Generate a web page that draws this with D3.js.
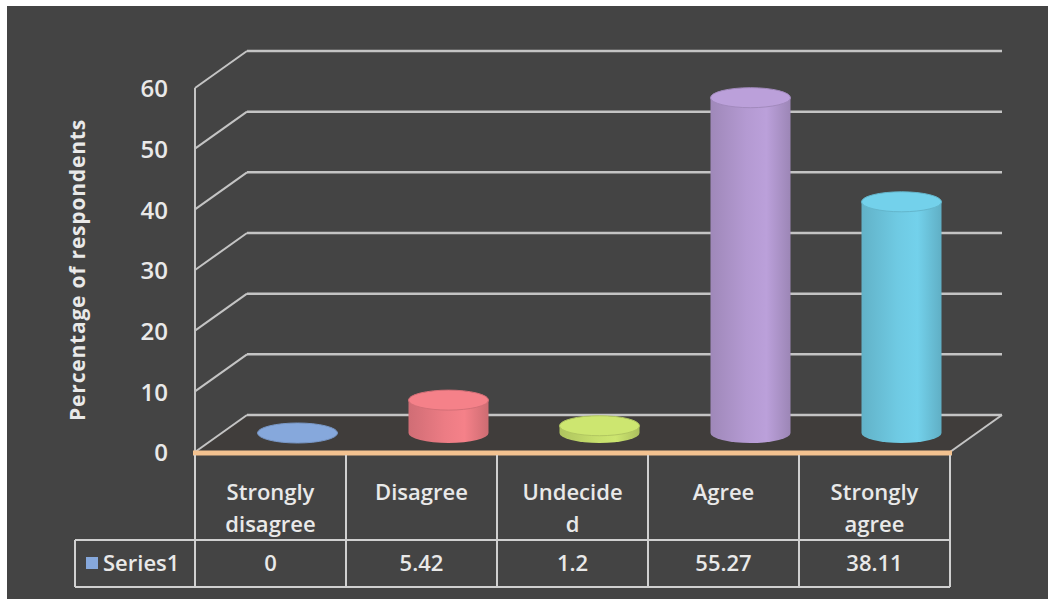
<!DOCTYPE html>
<html>
<head>
<meta charset="utf-8">
<script src="https://cdn.jsdelivr.net/npm/d3@7/dist/d3.min.js"></script>
<style>
  html, body { margin: 0; padding: 0; background: #ffffff; }
  svg { display: block; }
  text { font-family: "Open Sans", Lato, sans-serif; font-weight: 600; fill: #e9e9e9; }
</style>
</head>
<body>
<svg id="chart" width="1048" height="599"></svg>
<script>
// ---- data ----
const categories = [["Strongly", "disagree"], ["Disagree"], ["Undecide", "d"], ["Agree"], ["Strongly", "agree"]];
const values = [0, 5.42, 1.2, 55.27, 38.11];
const valueLabels = ["0", "5.42", "1.2", "55.27", "38.11"];
const yTicks = [0, 10, 20, 30, 40, 50, 60];
const seriesName = "Series1";
const yTitle = "Percentage of respondents";
const barColors = ["#86a8dc", "#ec7c84", "#c6de6c", "#b49ad2", "#6fcae3"];

// ---- layout ----
const svg = d3.select("#chart");
const W = 1048, H = 599;
const plotLeft = 195, plotRight = 950;
const yFront0 = 452, yFrontTop = 88;
const depth = { dx: 52, dy: -37 };

svg.append("rect").attr("x", 7).attr("y", 6).attr("width", W - 7).attr("height", H - 6).attr("fill", "#444444");

const x = d3.scaleBand().domain(d3.range(categories.length)).range([plotLeft, plotRight]);
const y = d3.scaleLinear().domain([0, 60]).range([yFront0, yFrontTop]);

const gridColor = "#c4c4c4";
const g = svg.append("g");

// floor plane
g.append("polygon")
  .attr("points", [
    [plotLeft, yFront0], [plotRight, yFront0],
    [plotRight + depth.dx, yFront0 + depth.dy], [plotLeft + depth.dx, yFront0 + depth.dy]
  ].map(p => p.join(",")).join(" "))
  .attr("fill", "#403d3b");

// back wall gridlines and left wall diagonals
yTicks.forEach(t => {
  const yy = y(t);
  g.append("line")
    .attr("x1", plotLeft + depth.dx).attr("x2", plotRight + depth.dx)
    .attr("y1", yy + depth.dy).attr("y2", yy + depth.dy)
    .attr("stroke", gridColor).attr("stroke-width", 2.5);
  g.append("line")
    .attr("x1", plotLeft).attr("x2", plotLeft + depth.dx)
    .attr("y1", yy).attr("y2", yy + depth.dy)
    .attr("stroke", gridColor).attr("stroke-width", 2);
});
// right floor edge
g.append("line")
  .attr("x1", plotRight).attr("y1", yFront0)
  .attr("x2", plotRight + depth.dx).attr("y2", yFront0 + depth.dy)
  .attr("stroke", gridColor).attr("stroke-width", 2);
// vertical axis line
g.append("line")
  .attr("x1", plotLeft).attr("x2", plotLeft)
  .attr("y1", y(60)).attr("y2", yFront0 + 2)
  .attr("stroke", gridColor).attr("stroke-width", 2);

// y tick labels
g.selectAll("text.ytick").data(yTicks).enter().append("text")
  .attr("class", "ytick")
  .attr("x", 168).attr("y", d => y(d) + 3)
  .attr("text-anchor", "end").attr("dominant-baseline", "middle")
  .attr("font-size", 24)
  .text(d => d);

// y title
svg.append("text")
  .attr("transform", "translate(79,270) rotate(-90)")
  .attr("text-anchor", "middle").attr("dominant-baseline", "middle")
  .attr("font-size", 21).attr("letter-spacing", 0.8)
  .style("font-weight", "bold")
  .text(yTitle);

// cylinders
const defs = svg.append("defs");
barColors.forEach((c, i) => {
  const base = d3.color(c);
  const grad = defs.append("linearGradient").attr("id", "cg" + i)
    .attr("x1", "0%").attr("x2", "100%").attr("y1", "0%").attr("y2", "0%");
  grad.append("stop").attr("offset", "0%").attr("stop-color", base.darker(0.35));
  grad.append("stop").attr("offset", "45%").attr("stop-color", base);
  grad.append("stop").attr("offset", "70%").attr("stop-color", base.brighter(0.1));
  grad.append("stop").attr("offset", "100%").attr("stop-color", base.darker(0.4));
});

const cylOffX = 27, cylOffY = -19;
const rx = 40, ry = 10;
const cyl = g.append("g");
values.forEach((v, i) => {
  const cx = x(i) + x.bandwidth() / 2 + cylOffX;
  const yb = y(0) + cylOffY;
  const yt = y(v) + cylOffY;
  const col = d3.color(barColors[i]);
  const pathStr = `M${cx - rx},${yt} L${cx - rx},${yb} A${rx},${ry} 0 0 0 ${cx + rx},${yb} L${cx + rx},${yt} Z`;
  if (v > 0.5) {
    cyl.append("path").attr("d", pathStr).attr("fill", `url(#cg${i})`);
  }
  cyl.append("ellipse")
    .attr("cx", cx).attr("cy", yt).attr("rx", rx).attr("ry", ry)
    .attr("fill", v > 0.5 ? col.brighter(0.1) : col)
    .attr("stroke", col.darker(0.3)).attr("stroke-width", 1);
});

// floor front edge (orange)
g.append("line")
  .attr("x1", plotLeft - 2).attr("x2", plotRight + 2)
  .attr("y1", yFront0 + 1).attr("y2", yFront0 + 1)
  .attr("stroke", "#f3c290").attr("stroke-width", 5);

// data table
const tLeft = 75, tRow1 = 540, tBottom = 587, tTop = yFront0 + 3;
const tcol = "#d0d0d0";
const tg = svg.append("g");
tg.append("line").attr("x1", tLeft).attr("x2", plotRight).attr("y1", tRow1).attr("y2", tRow1).attr("stroke", tcol).attr("stroke-width", 2);
tg.append("line").attr("x1", tLeft).attr("x2", plotRight).attr("y1", tBottom).attr("y2", tBottom).attr("stroke", tcol).attr("stroke-width", 2);
tg.append("line").attr("x1", tLeft).attr("x2", tLeft).attr("y1", tRow1).attr("y2", tBottom).attr("stroke", tcol).attr("stroke-width", 2);
const bounds = x.domain().map(i => x(i)).concat([plotRight]);
bounds.forEach(bx => {
  tg.append("line").attr("x1", bx).attr("x2", bx).attr("y1", tTop).attr("y2", tBottom)
    .attr("stroke", tcol).attr("stroke-width", 2);
});
categories.forEach((lines, i) => {
  const cx = x(i) + x.bandwidth() / 2;
  const t = tg.append("text").attr("text-anchor", "middle").attr("font-size", 22);
  lines.forEach((ln, k) => {
    t.append("tspan").attr("x", cx).attr("y", 500 + k * 32).text(ln);
  });
  tg.append("text").attr("x", cx).attr("y", 571).attr("text-anchor", "middle")
    .attr("font-size", 22).text(valueLabels[i]);
});
tg.append("rect").attr("x", 86).attr("y", 557).attr("width", 12).attr("height", 12).attr("fill", barColors[0]);
tg.append("text").attr("x", 103).attr("y", 571).attr("font-size", 22).text(seriesName);
</script>
</body>
</html>
